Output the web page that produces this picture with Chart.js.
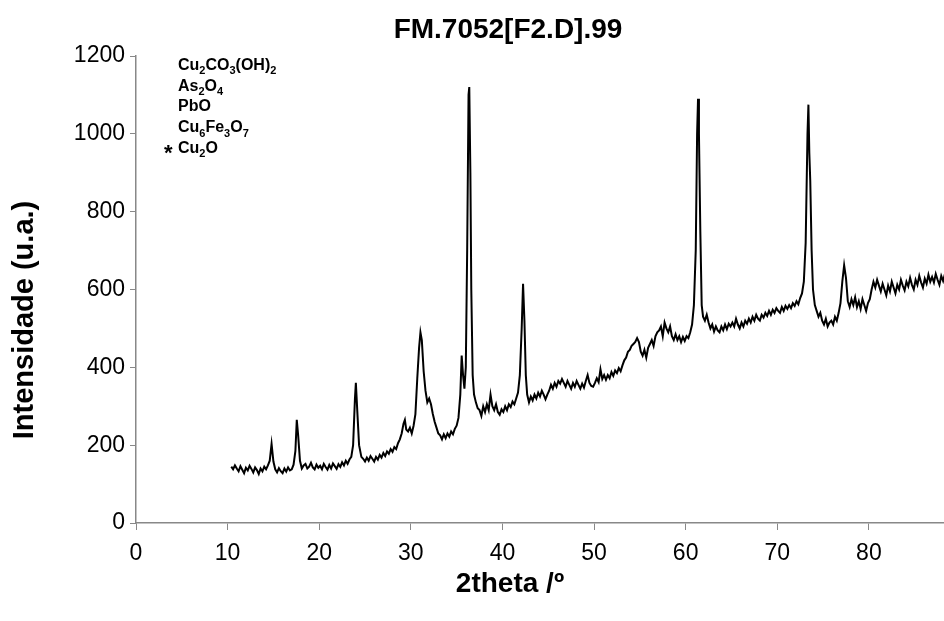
<!DOCTYPE html>
<html>
<head>
<meta charset="utf-8">
<script src="https://cdn.jsdelivr.net/npm/chart.js@4.4.1/dist/chart.umd.min.js"></script>
<style>
  html, body { margin: 0; padding: 0; background: #fff; }
  #wrap { width: 944px; height: 621px; }
</style>
</head>
<body>
<div id="wrap"><canvas id="xrd"></canvas></div>
<script>
// --- Data ---
const twoTheta = [
  10.4,10.6,10.8,11.0,11.2,11.4,11.6,11.8,12.0,12.2,12.4,12.6,12.8,13.0,13.2,13.4,13.6,13.8,14.0,14.2,14.4,
  14.6,14.8,15.0,15.2,15.4,15.6,15.8,16.0,16.2,16.4,16.6,16.8,17.0,17.2,
  17.4,17.55,17.7,17.9,18.1,18.3,18.5,18.7,18.9,19.1,19.3,19.5,19.7,19.9,20.1,20.3,20.5,20.7,20.9,21.1,21.3,21.5,21.7,21.9,22.1,22.3,22.5,22.7,22.9,23.1,23.3,23.5,
  23.7,23.9,24.0,24.15,24.35,24.6,24.8,25.0,25.2,25.4,25.6,25.8,26.0,26.2,26.4,26.6,26.8,27.0,27.2,27.4,27.6,27.8,28.0,28.2,28.4,28.6,28.8,
  29.0,29.2,29.35,29.5,29.7,29.9,30.1,30.3,30.5,30.7,
  30.9,31.05,31.2,31.4,31.6,31.8,32.0,32.2,32.4,32.6,32.8,33.0,33.2,33.4,33.6,33.8,34.0,34.2,34.4,34.6,34.8,35.0,35.2,
  35.4,35.55,35.7,35.85,36.0,
  36.15,36.3,36.38,36.5,36.6,36.75,36.9,37.1,37.3,37.5,37.7,37.9,38.1,38.3,38.5,
  38.7,38.9,39.1,39.3,39.5,39.7,39.9,40.1,40.3,40.5,40.7,40.9,41.1,41.3,41.5,41.7,
  41.9,42.1,42.25,42.4,42.55,42.7,42.9,43.1,43.3,43.5,43.7,43.9,44.1,44.3,44.5,44.7,44.9,45.1,45.3,45.5,45.7,45.9,46.1,46.3,46.5,46.7,46.9,47.1,47.3,47.5,47.7,47.9,48.1,48.3,48.5,48.7,48.9,49.1,49.3,49.5,49.7,49.9,50.1,50.3,50.5,50.7,50.9,51.1,51.3,51.5,51.7,51.9,52.1,52.3,52.5,52.7,52.9,53.1,53.3,53.5,53.7,
  53.9,54.1,54.3,54.5,54.7,54.9,55.1,55.3,55.5,55.7,55.9,56.1,56.3,56.5,56.7,56.9,57.1,57.3,57.5,57.7,57.9,58.1,58.3,58.5,58.7,58.9,59.1,59.3,59.5,59.7,59.9,60.1,60.3,60.5,60.7,
  60.9,61.1,61.25,61.35,61.45,61.6,61.75,61.9,62.1,62.3,62.5,62.7,62.9,63.1,63.3,63.5,63.7,63.9,64.1,64.3,64.5,64.7,64.9,65.1,65.3,65.5,65.7,65.9,66.1,66.3,66.5,66.7,66.9,67.1,67.3,67.5,67.7,67.9,68.1,68.3,68.5,68.7,68.9,69.1,69.3,69.5,69.7,69.9,70.1,70.3,70.5,70.7,70.9,71.1,71.3,71.5,71.7,71.9,72.1,72.3,72.5,72.7,
  72.9,73.1,73.3,73.4,73.5,73.6,73.75,73.9,74.1,74.3,74.5,74.7,74.9,75.1,75.3,75.5,75.7,75.9,76.1,76.3,76.5,76.7,76.9,
  77.1,77.3,77.5,77.7,77.9,78.1,78.3,78.5,78.7,78.9,79.1,79.3,79.5,79.7,79.9,80.1,80.3,80.5,80.7,80.9,81.1,81.3,81.5,81.7,81.9,82.1,82.3,82.5,82.7,82.9,83.1,83.3,83.5,83.7,83.9,84.1,84.3,84.5,84.7,84.9,85.1,85.3,85.5,85.7,85.9,86.1,86.3,86.5,86.7,86.9,87.1,87.3,87.5,87.7,87.9,88.1,88.3
];
const intensity = [
  145,138,148,140,133,146,137,128,142,135,147,139,130,143,136,126,140,133,145,138,148,
  160,203,158,138,130,141,133,128,140,132,143,135,138,150,
  185,265,225,160,140,148,152,140,145,155,143,138,150,142,147,138,152,144,137,149,140,153,146,139,151,144,156,148,160,152,163,170,
  200,320,360,290,200,170,165,158,168,160,172,165,158,170,163,175,168,180,172,184,178,190,183,195,190,205,215,
  230,255,265,240,235,245,230,250,280,370,
  450,490,470,390,340,310,320,305,280,260,245,230,225,215,228,218,230,222,235,228,242,250,270,
  330,430,380,345,400,
  700,1100,1120,900,600,380,330,310,295,290,275,300,285,305,290,
  330,300,290,305,285,278,292,285,300,290,305,298,312,305,320,335,
  380,500,615,520,380,330,310,325,315,330,320,335,325,340,330,318,330,340,355,345,360,350,365,358,370,360,350,365,355,345,360,350,365,355,345,358,348,365,380,360,352,350,360,372,362,395,370,380,368,380,372,388,378,392,385,398,390,405,418,425,440,
  445,455,460,465,475,465,440,430,445,425,450,460,470,455,480,490,495,505,480,515,500,490,505,480,470,485,470,480,465,478,468,480,475,490,510,
  560,700,1000,1090,1000,750,560,530,520,535,515,500,510,492,505,495,490,505,495,510,498,512,505,515,505,525,510,500,515,505,520,512,525,515,530,520,535,525,520,535,528,540,532,545,535,548,540,552,545,540,555,545,558,550,560,552,565,558,570,562,578,590,
  620,720,1000,1075,950,880,700,600,560,545,530,540,520,510,525,505,515,520,510,530,520,540,565,
  620,662,630,570,555,575,560,580,555,570,550,575,560,545,565,575,600,620,605,625,610,595,615,600,585,610,595,620,605,590,612,600,625,610,598,620,608,630,612,600,625,612,635,618,605,628,615,638,620,632,618,640,625,612,635,622,640
];
const xTicks = [0, 10, 20, 30, 40, 50, 60, 70, 80];
const yTicks = [0, 200, 400, 600, 800, 1000, 1200];
const phases = ['Cu_2CO_3(OH)_2', 'As_2O_4', 'PbO', 'Cu_6Fe_3O_7', 'Cu_2O'];

const FONT = '"Liberation Sans", Arial, sans-serif';

// draws a formula with _n subscripts
function drawFormula(ctx, text, x, y, size) {
    const parts = text.split(/(_\d)/);
    parts.forEach(p => {
        if (p.startsWith('_')) {
            ctx.font = `bold ${Math.round(size * 0.68)}px ${FONT}`;
            ctx.fillText(p.slice(1), x, y + size * 0.28);
            x += ctx.measureText(p.slice(1)).width;
        } else if (p) {
            ctx.font = `bold ${size}px ${FONT}`;
            ctx.fillText(p, x, y);
            x += ctx.measureText(p).width;
        }
    });
}

const textPlugin = {
    id: 'texts',
    afterDraw(chart) {
        const ctx = chart.ctx;
        ctx.save();
        ctx.fillStyle = '#000';
        ctx.textBaseline = 'alphabetic';
        ctx.textAlign = 'center';
        ctx.font = `bold 28px ${FONT}`;
        ctx.fillText('FM.7052[F2.D].99', 508, 38);
        ctx.fillText('2theta /º', 510, 592);
        ctx.save();
        ctx.translate(33, 320);
        ctx.rotate(-Math.PI / 2);
        ctx.font = `bold 29px ${FONT}`;
        ctx.fillText('Intensidade (u.a.)', 0, 0);
        ctx.restore();

        ctx.textAlign = 'left';
        phases.forEach((p, i) => {
            drawFormula(ctx, p, 178, 70 + i * 20.7, 16);
        });
        ctx.font = `bold 22px ${FONT}`;
        ctx.fillText('*', 164, 160);
        ctx.restore();
    }
};

const points = twoTheta.map((x, i) => ({ x: x, y: intensity[i] }));

new Chart(document.getElementById('xrd'), {
    type: 'line',
    data: {
        datasets: [{
            data: points,
            borderColor: '#000',
            borderWidth: 2,
            pointRadius: 0,
            tension: 0,
            fill: false
        }]
    },
    options: {
        responsive: true,
        maintainAspectRatio: false,
        animation: false,
        layout: { padding: { top: 56, right: 0, left: 0, bottom: 0 } },
        plugins: {
            legend: { display: false },
            tooltip: { enabled: false }
        },
        scales: {
            x: {
                type: 'linear',
                min: 0,
                max: 88.2,
                afterBuildTicks: (scale) => {
                    scale.ticks = xTicks.map(v => ({ value: v }));
                },
                afterFit: (scale) => { scale.height = 98; },
                grid: { drawOnChartArea: false, color: '#888', tickLength: 7 },
                border: { color: '#888', width: 1.5 },
                ticks: { color: '#000', font: { family: FONT, size: 23 }, padding: 10, maxRotation: 0,
                    callback: (v) => String(v) }
            },
            y: {
                min: 0,
                max: 1200,
                afterBuildTicks: (scale) => {
                    scale.ticks = yTicks.map(v => ({ value: v }));
                },
                afterFit: (scale) => { scale.width = 136; },
                grid: { drawOnChartArea: false, color: '#888', tickLength: 6 },
                border: { color: '#888', width: 1.5 },
                ticks: { color: '#000', font: { family: FONT, size: 23 }, padding: 5,
                    callback: (v) => String(v) }
            }
        }
    },
    plugins: [textPlugin]
});
</script>
</body>
</html>
